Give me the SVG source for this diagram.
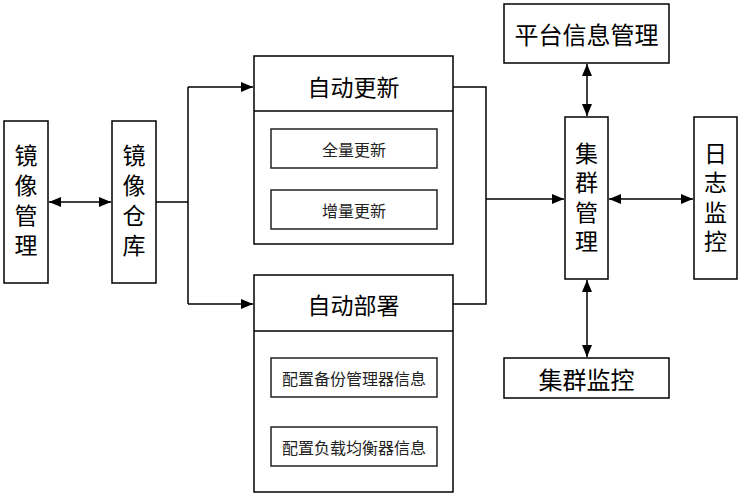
<svg xmlns="http://www.w3.org/2000/svg" width="743" height="500" viewBox="0 0 743 500">
<style>
.box{fill:#fff;stroke:#000;stroke-width:1.5}
.inner{fill:#fff;stroke:#222;stroke-width:1.5}
.t{font-family:"Noto Sans CJK SC","Noto Sans",sans-serif;font-size:23px;fill:#000;text-anchor:middle;dominant-baseline:central}
.v{font-family:"Noto Sans CJK SC","Noto Sans",sans-serif;font-size:23px;fill:#000;text-anchor:middle;writing-mode:vertical-rl;letter-spacing:7px}
.b{font-size:24px}
.s{font-family:"Noto Sans CJK SC","Noto Sans",sans-serif;font-size:16px;fill:#222;text-anchor:middle;dominant-baseline:central}
.ln{fill:none;stroke:#000;stroke-width:1.5}
</style>
<defs>
<marker id="ah" viewBox="0 0 12 10" refX="12" refY="5" markerWidth="12" markerHeight="10" markerUnits="userSpaceOnUse" orient="auto-start-reverse"><path d="M0,0 L12,5 L0,10 z" fill="#000"/></marker>
</defs>
<rect width="743" height="500" fill="#fff"/>
<g id="connectors">
<line class="ln" x1="49" y1="202" x2="111" y2="202" marker-start="url(#ah)" marker-end="url(#ah)"/>
<polyline class="ln" points="156,202 188,202"/>
<polyline class="ln" points="188,87 188,304"/>
<line class="ln" x1="188" y1="87" x2="253" y2="87" marker-end="url(#ah)"/>
<line class="ln" x1="188" y1="304" x2="253" y2="304" marker-end="url(#ah)"/>
<polyline class="ln" points="453,87 486,87 486,304 453,304"/>
<line class="ln" x1="486" y1="199" x2="564" y2="199" marker-end="url(#ah)"/>
<line class="ln" x1="609" y1="199" x2="693" y2="199" marker-start="url(#ah)" marker-end="url(#ah)"/>
<line class="ln" x1="587" y1="64" x2="587" y2="116" marker-start="url(#ah)" marker-end="url(#ah)"/>
<line class="ln" x1="587" y1="280" x2="587" y2="357" marker-start="url(#ah)" marker-end="url(#ah)"/>
</g>
<g id="jingxiang-guanli">
<rect class="box" x="4" y="121" width="44" height="162"/>
<text class="v" x="26" y="203.5">镜像管理</text>
</g>
<g id="jingxiang-cangku">
<rect class="box" x="112" y="121" width="44" height="162"/>
<text class="v" x="134" y="203.5">镜像仓库</text>
</g>
<g id="zidong-gengxin">
<rect class="box" x="254" y="56" width="199" height="188"/>
<line class="ln" x1="254" y1="111" x2="453" y2="111"/>
<text class="t" x="353.5" y="86">自动更新</text>
<rect class="inner" x="271" y="129" width="166" height="39"/>
<text class="s" x="354" y="148.5">全量更新</text>
<rect class="inner" x="271" y="190" width="166" height="39"/>
<text class="s" x="354" y="209.5">增量更新</text>
</g>
<g id="zidong-bushu">
<rect class="box" x="254" y="275" width="199" height="217"/>
<line class="ln" x1="254" y1="331" x2="453" y2="331"/>
<text class="t" x="353.5" y="304">自动部署</text>
<rect class="inner" x="271" y="358" width="166" height="39"/>
<text class="s" x="354" y="377.5">配置备份管理器信息</text>
<rect class="inner" x="271" y="427" width="166" height="39"/>
<text class="s" x="354" y="446.5">配置负载均衡器信息</text>
</g>
<g id="pingtai-xinxi-guanli">
<rect class="box" x="504" y="4" width="165" height="59"/>
<text class="t b" x="586.5" y="33">平台信息管理</text>
</g>
<g id="jiqun-guanli">
<rect class="box" x="565" y="117" width="43" height="162"/>
<text class="v" x="586.5" y="200.5" style="letter-spacing:6.5px">集群管理</text>
</g>
<g id="rizhi-jiankong">
<rect class="box" x="694" y="117" width="43" height="162"/>
<text class="v" x="715.5" y="200.5" style="letter-spacing:6.5px">日志监控</text>
</g>
<g id="jiqun-jiankong">
<rect class="box" x="504" y="358" width="165" height="40"/>
<text class="t b" x="586.5" y="378">集群监控</text>
</g>
</svg>
